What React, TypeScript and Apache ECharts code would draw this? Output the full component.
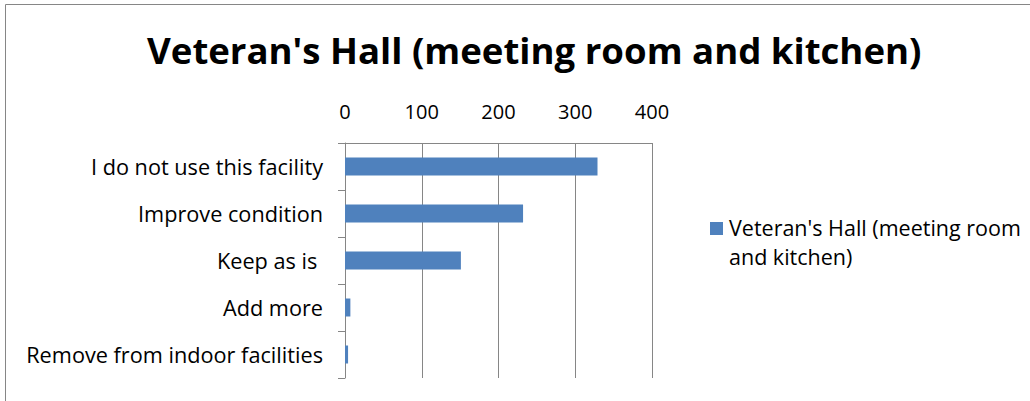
import React, { useEffect, useRef } from "react";
import * as echarts from "echarts";

const categories = [
  "I do not use this facility",
  "Improve condition",
  "Keep as is ",
  "Add more",
  "Remove from indoor facilities",
];
const values = [329, 232, 151, 7, 4];
const seriesName = "Veteran's Hall (meeting room and kitchen)";
const titleText = "Veteran's Hall (meeting room and kitchen)";
const legendLines = ["Veteran's Hall (meeting room", "and kitchen)"];

const FONT = "'Open Sans', Lato, sans-serif";
const GRAY = "#868686";
const BAR = "#4F81BD";

export default function App() {
  const ref = useRef<HTMLDivElement>(null);
  useEffect(() => {
    if (!ref.current) return;
    const chart = echarts.init(ref.current, undefined, { renderer: "svg" });
    chart.setOption({
      animation: false,
      backgroundColor: "#ffffff",
      textStyle: { fontFamily: FONT },
      title: {
        text: titleText,
        left: 142,
        top: 26,
        textStyle: { fontFamily: FONT, fontSize: 36.6, fontWeight: "bold", color: "#000" },
      },
      grid: { left: 345, top: 143, width: 307, height: 235, containLabel: false },
      xAxis: {
        type: "value",
        position: "top",
        min: 0,
        max: 400,
        interval: 100,
        axisLine: { show: true, lineStyle: { color: GRAY, width: 1 } },
        axisTick: { show: false },
        splitLine: { show: true, lineStyle: { color: GRAY, width: 1 } },
        axisLabel: { fontSize: 20, color: "#000", margin: 22, fontFamily: FONT },
      },
      yAxis: {
        type: "category",
        inverse: true,
        data: categories,
        axisLine: { show: true, lineStyle: { color: GRAY, width: 1 } },
        axisTick: { show: true, length: 7, lineStyle: { color: GRAY } },
        axisLabel: { fontSize: 21.7, color: "#000", margin: 22, fontFamily: FONT },
      },
      series: [
        {
          type: "bar",
          name: seriesName,
          data: values,
          barWidth: 18,
          itemStyle: { color: BAR },
        },
      ],
      graphic: [
        {
          type: "rect",
          shape: { x: 5.5, y: 4.5, width: 1100, height: 500 },
          style: { fill: "none", stroke: GRAY, lineWidth: 1 },
          silent: true,
        },
        {
          type: "rect",
          shape: { x: 710, y: 222, width: 13, height: 13 },
          style: { fill: BAR },
        },
        {
          type: "text",
          x: 729,
          y: 213,
          style: {
            text: legendLines.join("\n"),
            font: `21.5px ${FONT}`,
            fill: "#000",
            lineHeight: 29,
            verticalAlign: "top",
          },
        },
      ],
    });
    return () => chart.dispose();
  }, []);
  return (
    <div
      ref={ref}
      style={{ position: "absolute", left: 0, top: 0, width: 1030, height: 401 }}
    />
  );
}
